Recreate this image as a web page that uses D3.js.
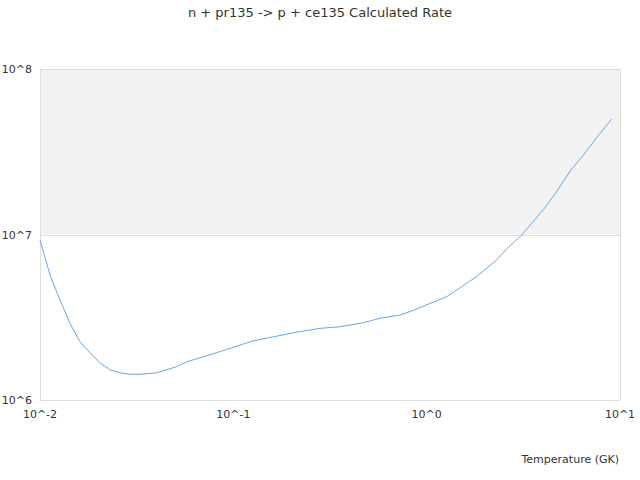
<!DOCTYPE html>
<html>
<head>
<meta charset="utf-8">
<script src="https://cdn.jsdelivr.net/npm/d3@7"></script>
<style>
  body { margin: 0; background: #fff; }
  text { font-family: "DejaVu Sans", sans-serif; }
</style>
</head>
<body>
<svg id="chart" width="640" height="480"></svg>
<script>
// temperature (GK) and rate values
var temps = [0.01, 0.01127, 0.01269, 0.01429, 0.0161, 0.01815, 0.0204, 0.023, 0.0259, 0.0292,
             0.0329, 0.0401, 0.0509, 0.0574, 0.0728, 0.0924, 0.127, 0.161, 0.221, 0.281,
             0.356, 0.470, 0.574, 0.728, 0.820, 1.27, 1.81, 2.30, 2.59, 3.10,
             4.01, 4.70, 5.57, 6.46, 7.88, 9.06]
var rates = [9.27e6, 5.69e6, 4.02e6, 2.90e6, 2.25e6, 1.93e6, 1.68e6, 1.52e6, 1.46e6, 1.43e6,
             1.43e6, 1.46e6, 1.59e6, 1.70e6, 1.85e6, 2.02e6, 2.28e6, 2.41e6, 2.59e6, 2.71e6,
             2.77e6, 2.93e6, 3.12e6, 3.26e6, 3.42e6, 4.21e6, 5.56e6, 7.01e6, 8.17e6, 9.93e6,
             1.41e7, 1.81e7, 2.45e7, 3.02e7, 4.08e7, 4.99e7]
var xTicks = [0.01, 0.1, 1, 10]
var xTickLabels = ["10^-2", "10^-1", "10^0", "10^1"]
var yTicks = [1e6, 1e7, 1e8]
var yTickLabels = ["10^6", "10^7", "10^8"]
var bands = [[1e7, 1e8]]

var title = "n + pr135 -> p + ce135 Calculated Rate"
var xTitle = "Temperature (GK)"

var svg = d3.select("#chart")

var dimensions = {
    left: 40,
    right: 620,
    top: 69,
    bottom: 400
}

var gridColor = "#dddddd"
var textColor = "#333333"
var lineColor = "#64a8f0"

var x = d3.scaleLog().domain([0.01, 10]).range([dimensions.left, dimensions.right])
var y = d3.scaleLog().domain([1e6, 1e8]).range([dimensions.bottom, dimensions.top])

//alternate band
svg.append("g")
   .selectAll("rect")
   .data(bands)
   .enter()
   .append("rect")
   .attr("x", dimensions.left)
   .attr("width", dimensions.right - dimensions.left)
   .attr("y", d => y(d[1]))
   .attr("height", d => y(d[0]) - y(d[1]))
   .attr("fill", "#f2f2f2")

//horizontal grid
svg.append("g")
   .selectAll("line")
   .data(yTicks)
   .enter()
   .append("line")
   .attr("x1", dimensions.left)
   .attr("x2", dimensions.right)
   .attr("y1", d => Math.round(y(d)) + 0.5)
   .attr("y2", d => Math.round(y(d)) + 0.5)
   .attr("stroke", gridColor)

//side borders
svg.append("g")
   .selectAll("line")
   .data([dimensions.left, dimensions.right])
   .enter()
   .append("line")
   .attr("x1", d => d + 0.5)
   .attr("x2", d => d + 0.5)
   .attr("y1", dimensions.top)
   .attr("y2", dimensions.bottom)
   .attr("stroke", gridColor)

//tick labels
svg.append("g")
   .selectAll("text")
   .data(yTicks)
   .enter()
   .append("text")
   .attr("x", 32)
   .attr("y", d => y(d) + 4)
   .attr("text-anchor", "end")
   .attr("font-size", 11)
   .attr("fill", textColor)
   .text((d, i) => yTickLabels[i])

svg.append("g")
   .selectAll("text")
   .data(xTicks)
   .enter()
   .append("text")
   .attr("x", d => x(d))
   .attr("y", 418)
   .attr("text-anchor", "middle")
   .attr("font-size", 11)
   .attr("fill", textColor)
   .text((d, i) => xTickLabels[i])

//rate line
var line = d3.line()
             .x(d => x(d[0]))
             .y(d => y(d[1]))
svg.append("path")
   .datum(temps.map((t, i) => [t, rates[i]]))
   .attr("d", line)
   .attr("fill", "none")
   .attr("stroke", lineColor)
   .attr("stroke-width", 1)

//titles
svg.append("text")
   .attr("x", 320)
   .attr("y", 17)
   .attr("text-anchor", "middle")
   .attr("font-size", 13)
   .attr("fill", textColor)
   .text(title)

svg.append("text")
   .attr("x", 619)
   .attr("y", 463)
   .attr("text-anchor", "end")
   .attr("font-size", 11)
   .attr("fill", textColor)
   .text(xTitle)
</script>
</body>
</html>
